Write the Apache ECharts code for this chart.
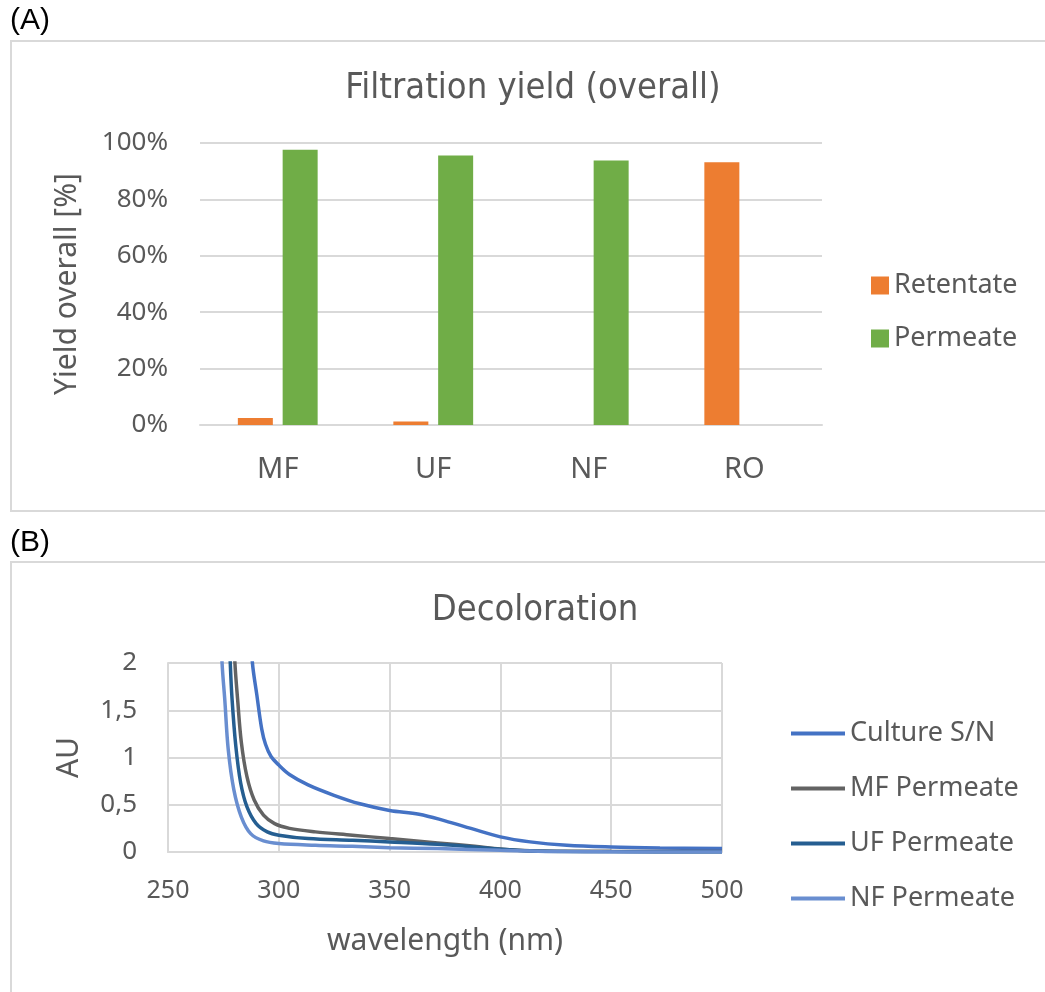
<!DOCTYPE html>
<html>
<head>
<meta charset="utf-8">
<script src="https://cdn.jsdelivr.net/npm/echarts@6/dist/echarts.min.js"></script>
<style>
  html, body { margin: 0; padding: 0; background: #fff; }
  #chart { width: 1045px; height: 992px; }
</style>
</head>
<body>
<div id="chart"></div>
<script>
// (A) filtration yield
const stages = ['MF', 'UF', 'NF', 'RO'];
const retentate = [2.5, 1.2, 0, 93.2];
const permeate = [97.6, 95.6, 93.8, 0];
const yieldTicks = [0, 20, 40, 60, 80, 100];

// (B) decoloration spectra: [wavelength nm, AU]
const cultureSN = [
  [286.5, 2.6], [288.1, 2.0], [290.1, 1.66], [292.3, 1.30], [294, 1.14], [296.5, 1.01], [300, 0.92],
  [304.8, 0.82], [313.2, 0.71], [324.9, 0.60], [336.6, 0.51], [350, 0.44],
  [363.3, 0.40], [375, 0.33], [386.7, 0.25], [400, 0.16], [413.4, 0.107],
  [430, 0.071], [450, 0.053], [472, 0.043], [500, 0.036]
];
const mfPermeate = [
  [279.4, 2.5], [280.2, 2.0], [281.4, 1.62], [283.1, 1.16], [285.6, 0.80], [288.9, 0.55],
  [293.1, 0.39], [298.1, 0.30], [304.8, 0.25], [316.5, 0.213], [333.2, 0.178],
  [350, 0.142], [371.7, 0.096], [388.4, 0.060], [400, 0.032], [413.4, 0.014],
  [450, 0.007], [500, 0.004]
];
const ufPermeate = [
  [277.4, 2.5], [278.1, 2.0], [278.9, 1.62], [280.6, 1.12], [282.8, 0.73], [285.6, 0.48],
  [289.8, 0.30], [294.8, 0.213], [300, 0.178], [313.2, 0.142], [333.2, 0.124],
  [350, 0.107], [371.7, 0.082], [388.4, 0.053], [400, 0.028], [413.4, 0.011],
  [450, 0.003], [500, 0.0]
];
const nfPermeate = [
  [273.8, 2.5], [274.4, 2.0], [275.6, 1.62], [277.2, 1.08], [279.7, 0.66], [283.1, 0.37],
  [287.3, 0.195], [293.1, 0.117], [300, 0.089], [316.5, 0.071], [333.2, 0.060],
  [350, 0.046], [371.7, 0.036], [400, 0.018], [430, 0.004], [500, 0.0]
];
const wlTicks = [250, 300, 350, 400, 450, 500];
const auTicks = [0, 0.5, 1, 1.5, 2];

const txt = '#595959';
const gridCol = '#d9d9d9';
const sans = "'Noto Sans', sans-serif";
const cond = "'DejaVu Sans Condensed', 'DejaVu Sans', sans-serif";

const lineSeries = (name, data, color) => ({
  name, type: 'line', xAxisIndex: 1, yAxisIndex: 1, data,
  smooth: 0.35, showSymbol: false, clip: true,
  color, lineStyle: { width: 3.5 }
});

const chart = echarts.init(document.getElementById('chart'));
chart.setOption({
  animation: false,
  graphic: [
    { type: 'rect', shape: { x: 11, y: 41, width: 1100, height: 470 },
      style: { fill: 'none', stroke: gridCol, lineWidth: 2 } },
    { type: 'rect', shape: { x: 11, y: 562, width: 1100, height: 500 },
      style: { fill: 'none', stroke: gridCol, lineWidth: 2 } },
    { type: 'text', left: 10, top: 6,
      style: { text: '(A)', fill: '#000', font: "30px 'Liberation Sans', Arial, sans-serif" } },
    { type: 'text', left: 10, top: 528,
      style: { text: '(B)', fill: '#000', font: "30px 'Liberation Sans', Arial, sans-serif" } }
  ],
  title: [
    { text: 'Filtration yield (overall)', left: 528, top: 66, textAlign: 'center',
      textStyle: { color: txt, fontFamily: cond, fontSize: 36, fontWeight: 'normal' } },
    { text: 'Decoloration', left: 530, top: 588, textAlign: 'center',
      textStyle: { color: txt, fontFamily: cond, fontSize: 36, fontWeight: 'normal' } }
  ],
  legend: [
    { data: ['Retentate', 'Permeate'], orient: 'vertical', left: 866, top: 267,
      icon: 'rect', itemWidth: 18, itemHeight: 18, itemGap: 26,
      textStyle: { color: txt, fontFamily: sans, fontSize: 27, lineHeight: 27 } },
    { data: ['Culture S/N', 'MF Permeate', 'UF Permeate', 'NF Permeate'], orient: 'vertical',
      left: 786, top: 715, icon: 'rect', itemWidth: 54, itemHeight: 4, itemGap: 28,
      textStyle: { color: txt, fontFamily: sans, fontSize: 27, lineHeight: 27 } }
  ],
  grid: [
    { left: 200, top: 143, width: 622, height: 282 },
    { left: 168, top: 663, width: 554, height: 189 }
  ],
  xAxis: [
    { gridIndex: 0, type: 'category', data: stages,
      axisLine: { lineStyle: { color: gridCol, width: 2 } },
      axisTick: { show: false },
      axisLabel: { color: txt, fontFamily: sans, fontSize: 29, margin: 30 } },
    { gridIndex: 1, type: 'value', min: wlTicks[0], max: wlTicks[wlTicks.length - 1], interval: 50,
      name: 'wavelength (nm)', nameLocation: 'middle', nameGap: 74,
      nameTextStyle: { color: txt, fontFamily: sans, fontSize: 30 },
      axisLine: { show: true, lineStyle: { color: gridCol, width: 2 } },
      axisTick: { show: false },
      splitLine: { show: true, lineStyle: { color: gridCol, width: 2 } },
      axisLabel: { color: txt, fontFamily: sans, fontSize: 25, margin: 26 } }
  ],
  yAxis: [
    { gridIndex: 0, type: 'value', min: yieldTicks[0], max: yieldTicks[yieldTicks.length - 1], interval: 20,
      name: 'Yield overall [%]', nameLocation: 'middle', nameGap: 118,
      nameTextStyle: { color: txt, fontFamily: sans, fontSize: 30 },
      axisLine: { show: false }, axisTick: { show: false },
      splitLine: { lineStyle: { color: gridCol, width: 2 } },
      axisLabel: { color: txt, fontFamily: sans, fontSize: 26, margin: 32, formatter: '{value}%' } },
    { gridIndex: 1, type: 'value', min: auTicks[0], max: auTicks[auTicks.length - 1], interval: 0.5,
      name: 'AU', nameLocation: 'middle', nameGap: 84,
      nameTextStyle: { color: txt, fontFamily: sans, fontSize: 30 },
      axisLine: { show: true, lineStyle: { color: gridCol, width: 2 } }, axisTick: { show: false },
      splitLine: { lineStyle: { color: gridCol, width: 2 } },
      axisLabel: { color: txt, fontFamily: sans, fontSize: 26, margin: 31,
        formatter: v => String(v).replace('.', ',') } }
  ],
  series: [
    { name: 'Retentate', type: 'bar', xAxisIndex: 0, yAxisIndex: 0, data: retentate,
      barWidth: 35, barGap: '28%', itemStyle: { color: '#ED7D31' } },
    { name: 'Permeate', type: 'bar', xAxisIndex: 0, yAxisIndex: 0, data: permeate,
      barWidth: 35, itemStyle: { color: '#70AD47' } },
    lineSeries('Culture S/N', cultureSN, '#4472C4'),
    lineSeries('MF Permeate', mfPermeate, '#636363'),
    lineSeries('UF Permeate', ufPermeate, '#255E91'),
    lineSeries('NF Permeate', nfPermeate, '#698ED0')
  ]
});
</script>
</body>
</html>
